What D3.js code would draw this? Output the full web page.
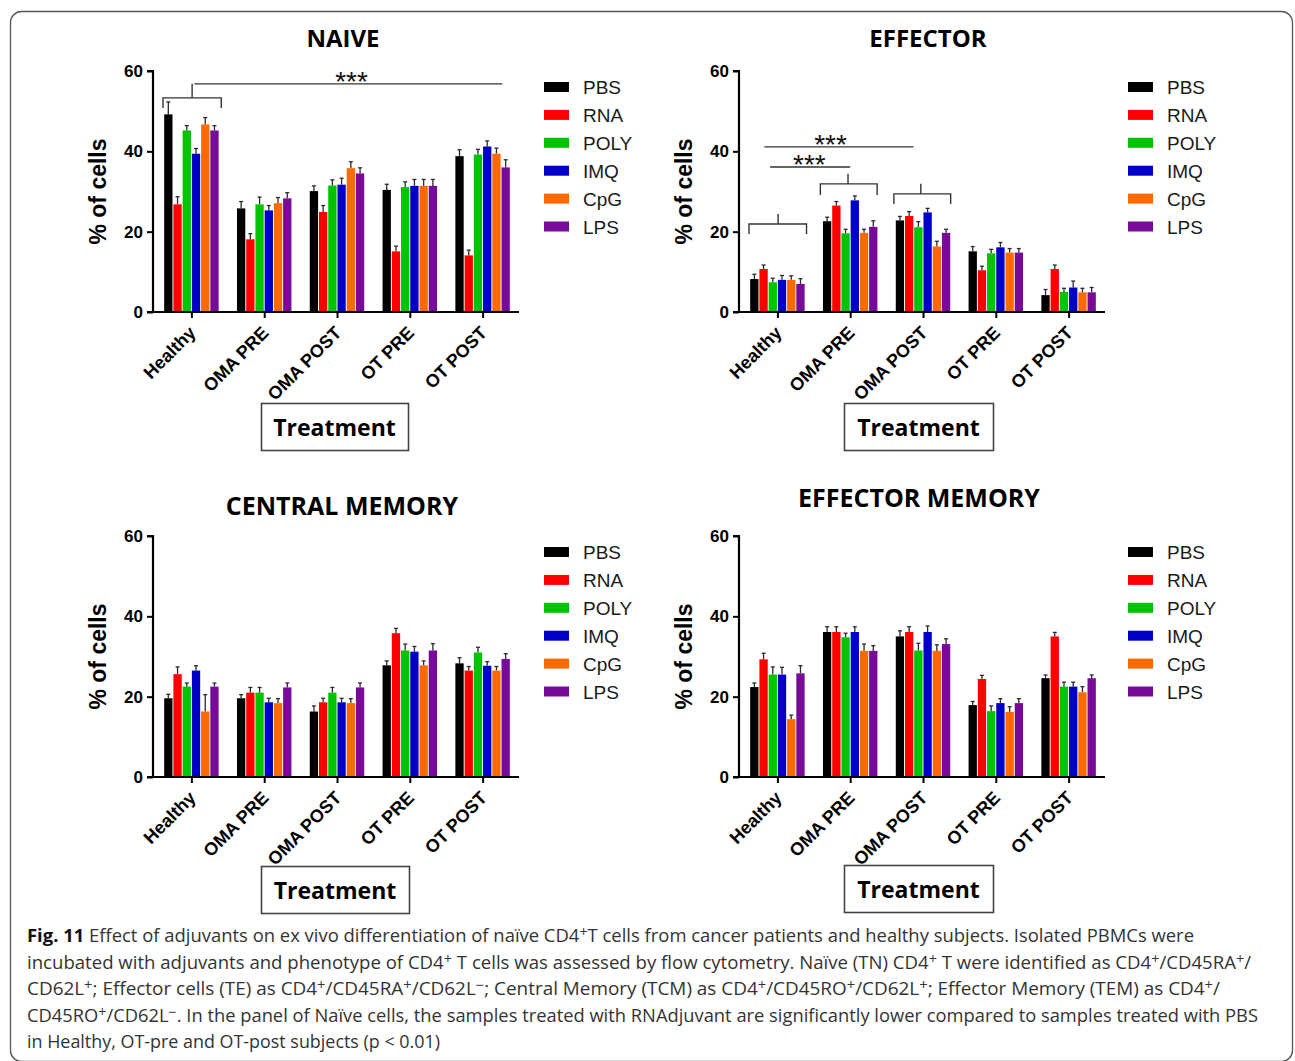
<!DOCTYPE html>
<html><head><meta charset="utf-8">
<script src="https://cdn.jsdelivr.net/npm/d3@7"></script>
<style>
html,body{margin:0;padding:0;background:#fff;}
svg{display:block;}
</style></head>
<body>
<svg id="chart" width="1295" height="1061"></svg>
<script>
// ---------- DATA ----------
const categories = ["Healthy", "OMA PRE", "OMA POST", "OT PRE", "OT POST"];
const seriesNames = ["PBS", "RNA", "POLY", "IMQ", "CpG", "LPS"];
const seriesColors = ["#000000", "#ff0000", "#00c400", "#0000c8", "#ff6a00", "#770a98"];
const yTicks = [0, 20, 40, 60];

// values per series (rows) across categories (columns)
const naiveValues = [
  [49.2, 25.8, 30.1, 30.4, 38.8],
  [26.8, 18.1, 24.9, 15.1, 14.1],
  [45.2, 26.8, 31.5, 31.1, 39.2],
  [39.4, 25.3, 31.7, 31.4, 41.2],
  [46.7, 27.1, 35.8, 31.4, 39.4],
  [45.2, 28.3, 34.5, 31.4, 36.0]
];
const naiveErrors = [
  [3.1, 1.7, 1.3, 1.4, 1.6],
  [1.9, 1.4, 1.6, 1.3, 1.3],
  [1.2, 1.8, 1.4, 1.3, 1.3],
  [1.3, 1.2, 1.6, 1.6, 1.4],
  [1.7, 1.4, 1.6, 1.6, 1.4],
  [1.2, 1.4, 1.4, 1.6, 1.9]
];
const effectorValues = [
  [8.2, 22.6, 22.8, 15.1, 4.2],
  [10.7, 26.5, 23.9, 10.4, 10.7],
  [7.4, 19.6, 21.1, 14.6, 5.0],
  [8.0, 27.8, 24.8, 16.1, 6.1],
  [8.0, 19.7, 16.3, 14.8, 4.9],
  [7.0, 21.2, 19.7, 14.8, 4.9]
];
const effectorErrors = [
  [1.2, 1.0, 1.0, 1.2, 1.4],
  [1.0, 1.0, 1.1, 1.0, 1.0],
  [1.0, 1.0, 1.4, 1.0, 0.9],
  [1.1, 1.1, 1.0, 1.2, 1.6],
  [1.0, 0.9, 1.3, 1.0, 1.0],
  [1.3, 1.5, 0.9, 1.0, 1.2]
];
const centralValues = [
  [19.6, 19.6, 16.3, 27.8, 28.3],
  [25.6, 21.0, 18.6, 35.8, 26.5],
  [22.5, 21.0, 21.0, 31.5, 31.0],
  [26.5, 18.6, 18.6, 31.2, 27.7],
  [16.3, 18.4, 18.4, 27.8, 26.5],
  [22.5, 22.3, 22.3, 31.5, 29.4]
];
const centralErrors = [
  [1.0, 0.9, 1.4, 1.1, 1.4],
  [1.8, 1.3, 1.0, 1.2, 1.0],
  [0.9, 1.3, 1.3, 1.6, 1.3],
  [1.2, 1.0, 1.0, 1.3, 1.0],
  [4.2, 1.1, 1.1, 1.1, 1.0],
  [0.9, 1.1, 1.1, 1.7, 1.3]
];
const effMemValues = [
  [22.4, 36.1, 35.0, 17.9, 24.6],
  [29.3, 36.1, 36.1, 24.4, 35.0],
  [25.5, 34.8, 31.5, 16.4, 22.5],
  [25.5, 36.1, 36.1, 18.4, 22.5],
  [14.4, 31.4, 31.4, 16.2, 21.1],
  [25.8, 31.4, 33.1, 18.4, 24.6]
];
const effMemErrors = [
  [1.0, 1.3, 1.4, 0.9, 0.8],
  [1.5, 1.3, 1.3, 0.9, 1.0],
  [1.9, 1.0, 1.8, 1.3, 1.1],
  [1.8, 1.3, 1.5, 1.1, 1.1],
  [1.0, 1.7, 1.5, 1.3, 1.4],
  [1.9, 1.3, 1.3, 1.1, 0.8]
];

// significance annotations: x in category-index units, y in data units
const naiveBrackets = [ {x0: -0.39, x1: 0.41, xm: 0.01, y: 53.3, yEnd: 50.8, yTop: 56.8} ];
const naiveSigLines = [ {x0: 0.04, x1: 4.27, y: 56.8, label: "***", xl: 2.2} ];
const effectorBrackets = [
  {x0: -0.39, x1: 0.40, xm: 0.01, y: 21.9, yEnd: 19.4, yTop: 24.4},
  {x0: 0.59, x1: 1.37, xm: 0.97, y: 31.9, yEnd: 29.1, yTop: 34.4},
  {x0: 1.60, x1: 2.38, xm: 1.97, y: 29.4, yEnd: 26.9, yTop: 31.9}
];
const effectorSigLines = [
  {x0: -0.18, x1: 1.87, y: 41.1, label: "***", xl: 0.73},
  {x0: -0.10, x1: 1.00, y: 36.1, label: "***", xl: 0.44}
];

const panels = [
  {title: "NAIVE", values: naiveValues, errors: naiveErrors, axisX: 153, top: 71, bottom: 312, titleX: 343, titleY: 47, brackets: naiveBrackets, sig: naiveSigLines, legendX: 544, box: [261, 403, 147, 47]},
  {title: "EFFECTOR", values: effectorValues, errors: effectorErrors, axisX: 739, top: 71, bottom: 312, titleX: 928, titleY: 47, brackets: effectorBrackets, sig: effectorSigLines, legendX: 1128, box: [844, 403, 149, 47]},
  {title: "CENTRAL MEMORY", values: centralValues, errors: centralErrors, axisX: 153, top: 536, bottom: 777, titleX: 342, titleY: 515, brackets: [], sig: [], legendX: 544, box: [261, 866, 148, 47]},
  {title: "EFFECTOR MEMORY", values: effMemValues, errors: effMemErrors, axisX: 739, top: 536, bottom: 777, titleX: 919, titleY: 507, brackets: [], sig: [], legendX: 1128, box: [844, 865, 149, 47]}
];

// caption lines; "^+" / "^-" denote superscripts, "**...**" bold
const captionLines = [
  {t: "**Fig. 11**  Effect of adjuvants on ex vivo differentiation of naïve CD4^+T cells from cancer patients and healthy subjects. Isolated PBMCs were", w: 1167},
  {t: "incubated with adjuvants and phenotype of CD4^+ T cells was assessed by flow cytometry. Naïve (TN) CD4^+ T were identified as CD4^+/CD45RA^+/", w: 1224},
  {t: "CD62L^+; Effector cells (TE) as CD4^+/CD45RA^+/CD62L^-; Central Memory (TCM) as CD4^+/CD45RO^+/CD62L^+; Effector Memory (TEM) as CD4^+/", w: 1193},
  {t: "CD45RO^+/CD62L^-. In the panel of Naïve cells, the samples treated with RNAdjuvant are significantly lower compared to samples treated with PBS", w: 1231},
  {t: "in Healthy, OT-pre and OT-post subjects (p < 0.01)", w: 413}
];

// ---------- DRAW ----------
const svg = d3.select("#chart");
svg.append("rect").attr("x", 10.5).attr("y", 11.5).attr("width", 1282).attr("height", 1050)
  .attr("rx", 11).attr("fill", "none").attr("stroke", "#555").attr("stroke-width", 1.3);

const axisFont = "'Liberation Sans', Arial, sans-serif";
const titleFont = "'Open Sans', sans-serif";

panels.forEach(p => {
  const g = svg.append("g");
  const y = d3.scaleLinear().domain([0, 60]).range([p.bottom, p.top]);
  const x = d3.scalePoint().domain(categories).range([p.axisX + 2, p.axisX + 366]).padding(0.5);
  const step = x.step();
  const xi = d3.scaleLinear().domain([0, 1]).range([x(categories[0]), x(categories[0]) + step]);
  const inner = d3.scaleBand().domain(seriesNames).range([-27.5, 27.5]).paddingInner(0.1).paddingOuter(0.03);

  // title
  g.append("text").attr("x", p.titleX).attr("y", p.titleY).attr("text-anchor", "middle")
    .attr("font-family", titleFont).attr("font-weight", 700).attr("font-size", p.title.length > 8 ? 25 : 24).text(p.title);

  // bars
  seriesNames.forEach((s, si) => {
    const data = categories.map((c, ci) => ({c, v: p.values[si][ci], e: p.errors[si][ci]}));
    const sg = g.append("g");
    sg.selectAll("line.err").data(data).join("line")
      .attr("x1", d => x(d.c) + inner(s) + inner.bandwidth() / 2)
      .attr("x2", d => x(d.c) + inner(s) + inner.bandwidth() / 2)
      .attr("y1", d => y(d.v)).attr("y2", d => y(d.v + d.e))
      .attr("stroke", "#2a2a2a").attr("stroke-width", 1.3);
    sg.selectAll("line.cap").data(data).join("line")
      .attr("x1", d => x(d.c) + inner(s) + inner.bandwidth() / 2 - 2)
      .attr("x2", d => x(d.c) + inner(s) + inner.bandwidth() / 2 + 2)
      .attr("y1", d => y(d.v + d.e)).attr("y2", d => y(d.v + d.e))
      .attr("stroke", "#2a2a2a").attr("stroke-width", 1.3);
    sg.selectAll("rect").data(data).join("rect")
      .attr("x", d => x(d.c) + inner(s)).attr("width", inner.bandwidth())
      .attr("y", d => y(d.v)).attr("height", d => y(0) - y(d.v))
      .attr("fill", seriesColors[si]);
  });

  // y axis
  const ya = g.append("g").attr("transform", `translate(${p.axisX},0)`)
    .call(d3.axisLeft(y).tickValues(yTicks).tickSize(6).tickPadding(4));
  ya.select(".domain").attr("stroke-width", 2.2).attr("d", `M-6,${y(60)}H0V${y(0)}`);
  ya.selectAll(".tick line").attr("stroke-width", 2);
  ya.selectAll(".tick text").attr("font-family", axisFont).attr("font-weight", 700)
    .attr("font-size", 17).attr("fill", "#000");

  // x axis
  const xa = g.append("g").attr("transform", `translate(0,${p.bottom})`)
    .call(d3.axisBottom(x).tickSize(6).tickSizeOuter(0));
  xa.select(".domain").attr("stroke-width", 2.2).attr("d", `M${p.axisX - 6},0H${p.axisX + 366}`);
  xa.selectAll(".tick line").attr("stroke-width", 2);
  xa.selectAll(".tick text")
    .attr("font-family", axisFont).attr("font-weight", 700).attr("font-size", 18).attr("fill", "#000")
    .attr("text-anchor", "end").attr("dy", null).attr("y", 0)
    .attr("transform", "translate(5,22) rotate(-45)");

  // y label
  g.append("text")
    .attr("transform", `translate(${p.axisX - 47},${(p.top + p.bottom) / 2}) rotate(-90)`)
    .attr("text-anchor", "middle").attr("font-family", axisFont).attr("font-weight", 700)
    .attr("font-size", 23).text("% of cells");

  // Treatment box
  g.append("rect").attr("x", p.box[0] + 0.5).attr("y", p.box[1] + 0.5).attr("width", p.box[2]).attr("height", p.box[3])
    .attr("fill", "none").attr("stroke", "#444").attr("stroke-width", 1.6);
  g.append("text").attr("x", p.box[0] + p.box[2] / 2).attr("y", p.box[1] + 33)
    .attr("text-anchor", "middle").attr("font-family", titleFont).attr("font-weight", 700)
    .attr("font-size", 23).text("Treatment");

  // legend
  const lg = g.append("g");
  seriesNames.forEach((s, si) => {
    const cy = p.top + 16 + si * 27.9;
    lg.append("rect").attr("x", p.legendX).attr("y", cy - 5).attr("width", 25).attr("height", 10)
      .attr("fill", seriesColors[si]);
    lg.append("text").attr("x", p.legendX + 39).attr("y", cy + 7)
      .attr("font-family", axisFont).attr("font-size", 19).attr("fill", "#1a1a1a").text(s);
  });

  // significance annotations
  const ag = g.append("g").attr("stroke", "#333").attr("stroke-width", 1.4).attr("fill", "none");
  p.brackets.forEach(b => {
    ag.append("path").attr("d",
      `M${xi(b.x0)},${y(b.yEnd)}V${y(b.y)}H${xi(b.x1)}V${y(b.yEnd)}M${xi(b.xm)},${y(b.y)}V${y(b.yTop)}`);
  });
  p.sig.forEach(sl => {
    ag.append("line").attr("x1", xi(sl.x0)).attr("x2", xi(sl.x1)).attr("y1", y(sl.y)).attr("y2", y(sl.y));
    g.append("text").attr("x", xi(sl.xl)).attr("y", y(sl.y) + 7).attr("text-anchor", "middle")
      .attr("font-family", axisFont).attr("font-size", 28).attr("fill", "#111").text(sl.label);
  });
});

// caption
const capFont = "'Open Sans', sans-serif";
captionLines.forEach((ln, i) => {
  const t = svg.append("text").attr("x", 27).attr("y", 942 + i * 26.6)
    .attr("font-family", capFont).attr("font-size", 18).attr("fill", "#333")
    .attr("textLength", ln.w).attr("lengthAdjust", "spacingAndGlyphs");
  const parts = ln.t.split(/(\*\*[^*]+\*\*|\^[+-])/).filter(s => s.length);
  parts.forEach(part => {
    if (part.startsWith("**")) {
      t.append("tspan").attr("font-weight", 700).attr("fill", "#111").text(part.slice(2, -2));
    } else if (part === "^+" || part === "^-") {
      t.append("tspan").attr("font-size", 14).attr("baseline-shift", "5")
        .text(part === "^+" ? "+" : "\u2212");
    } else {
      t.append("tspan").text(part);
    }
  });
});
</script>
</body></html>
